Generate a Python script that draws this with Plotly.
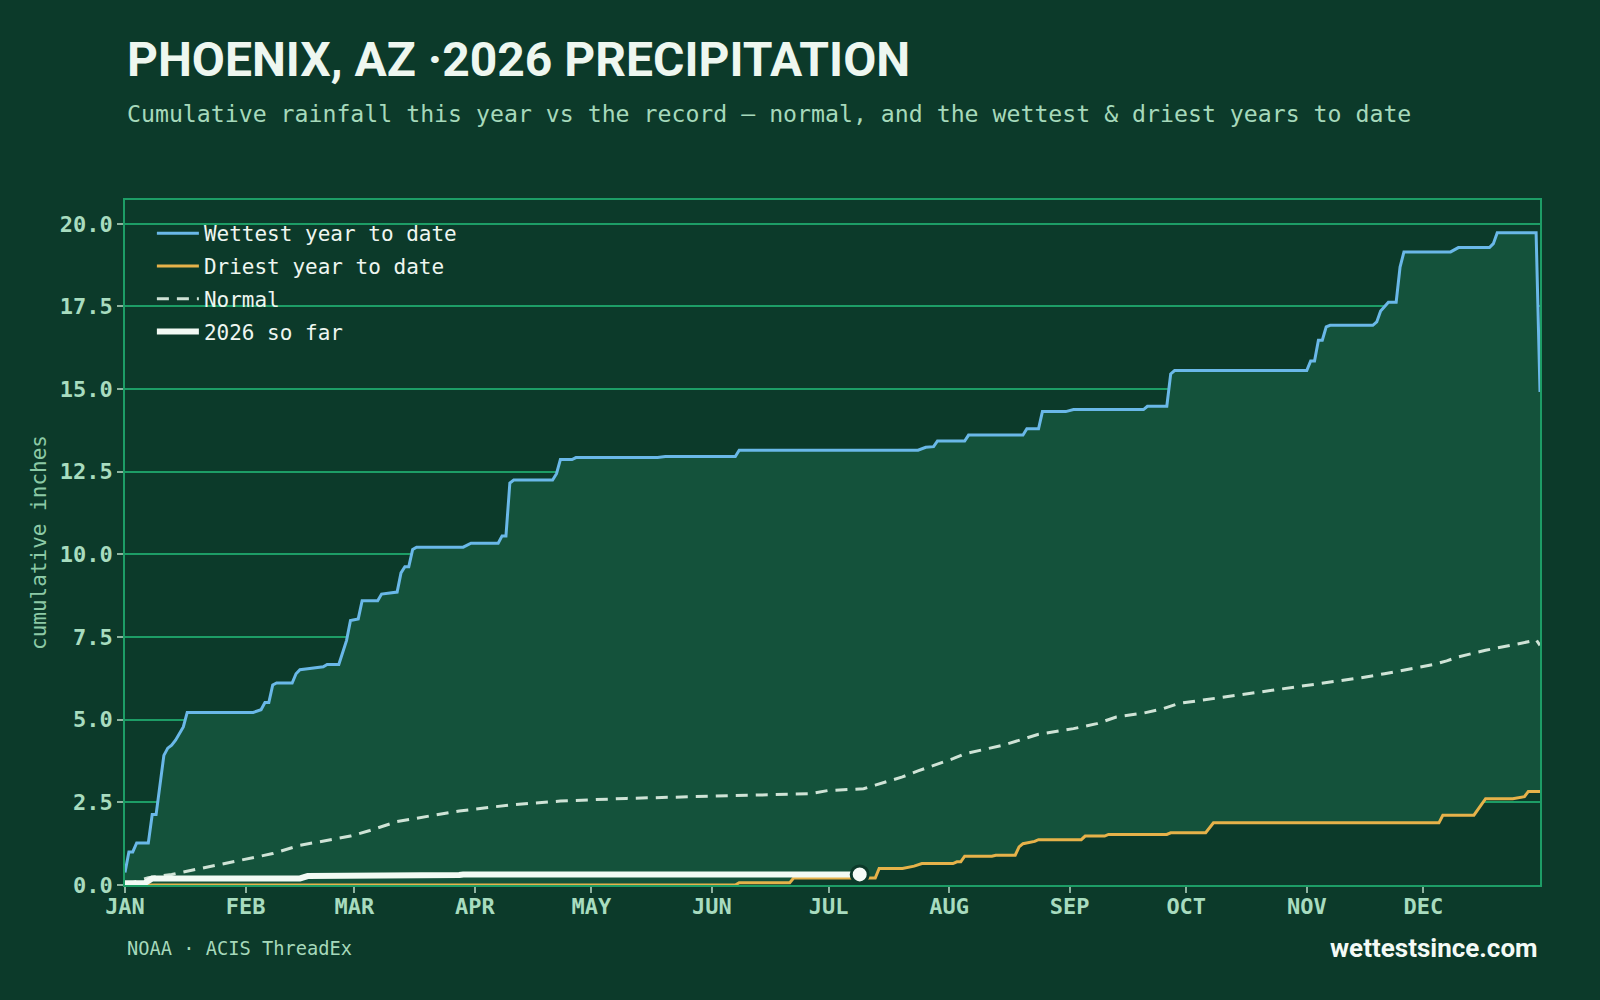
import plotly.graph_objects as go

# ---------------- data (day index 0 = Jan 1, 364 = Dec 31) ----------------
month_ticks = [0, 31, 59, 90, 120, 151, 181, 212, 243, 273, 304, 334]
month_labels = ["JAN", "FEB", "MAR", "APR", "MAY", "JUN",
                "JUL", "AUG", "SEP", "OCT", "NOV", "DEC"]
y_ticks = [0, 2.5, 5, 7.5, 10, 12.5, 15, 17.5, 20]

wettest_days = [0, 1, 2, 3, 6, 7, 8, 10, 11, 12, 13, 15, 16, 33, 35, 36, 37, 38, 39, 43,
                44, 45, 47, 51, 52, 55, 57, 58, 60, 61, 65, 66, 70, 71, 72, 73, 74, 75, 87,
                89, 96, 97, 98, 99, 100, 110, 111, 112, 115, 116, 137, 139, 157, 158, 204,
                206, 208, 209, 216, 217, 231, 232, 235, 236, 242, 244, 262, 263, 268, 269,
                270, 304, 305, 306, 307, 308, 309, 310, 321, 322, 323, 325, 327, 328, 329,
                341, 343, 351, 352, 353, 363, 364]
wettest_vals = [0.38, 1.0, 1.0, 1.27, 1.27, 2.13, 2.13, 3.92, 4.14, 4.23, 4.38, 4.78, 5.22,
                5.22, 5.3, 5.52, 5.52, 6.05, 6.11, 6.11, 6.39, 6.51, 6.54, 6.6, 6.67, 6.67,
                7.4, 8.0, 8.05, 8.6, 8.6, 8.8, 8.86, 9.44, 9.63, 9.63, 10.15, 10.22, 10.22,
                10.34, 10.34, 10.56, 10.56, 12.16, 12.25, 12.25, 12.44, 12.87, 12.87, 12.93,
                12.93, 12.96, 12.96, 13.15, 13.15, 13.24, 13.26, 13.43, 13.43, 13.61, 13.61,
                13.8, 13.8, 14.32, 14.32, 14.38, 14.38, 14.48, 14.48, 15.46, 15.56, 15.56,
                15.85, 15.85, 16.48, 16.48, 16.88, 16.93, 16.93, 17.03, 17.36, 17.63, 17.63,
                18.69, 19.15, 19.15, 19.28, 19.28, 19.40, 19.73, 19.73, 14.91]

driest_days = [0, 157, 158, 171, 172, 193, 194, 200, 203, 205, 213, 214, 215, 216, 223, 224,
               229, 230, 231, 232, 234, 235, 246, 247, 252, 253, 268, 269, 278, 280, 338,
               339, 347, 350, 357, 360, 361, 364]
driest_vals = [0, 0, 0.07, 0.07, 0.21, 0.21, 0.50, 0.50, 0.57, 0.65, 0.65, 0.70, 0.70, 0.87,
               0.87, 0.90, 0.90, 1.15, 1.25, 1.27, 1.32, 1.37, 1.37, 1.48, 1.48, 1.53, 1.53,
               1.58, 1.58, 1.88, 1.88, 2.11, 2.11, 2.61, 2.61, 2.67, 2.83, 2.83]

normal_days = [0, 6, 12, 20, 26, 32, 38, 45, 51, 58, 63, 70, 75, 86, 99, 112, 129, 153, 176,
               181, 190, 193, 200, 204, 213, 216, 226, 235, 244, 250, 255, 262, 267, 271,
               280, 287, 296, 302, 311, 318, 324, 331, 337, 340, 343, 350, 357, 362, 363, 364]
normal_vals = [0.0, 0.22, 0.32, 0.52, 0.65, 0.81, 0.95, 1.2, 1.33, 1.48, 1.65, 1.92, 2.02,
               2.24, 2.42, 2.54, 2.62, 2.69, 2.76, 2.86, 2.91, 3.02, 3.27, 3.45, 3.82, 3.97,
               4.23, 4.56, 4.73, 4.88, 5.08, 5.2, 5.33, 5.49, 5.64, 5.74, 5.89, 6.01, 6.14,
               6.27, 6.39, 6.55, 6.68, 6.78, 6.9, 7.1, 7.25, 7.38, 7.42, 7.25]

current_days = [0, 5, 7, 45, 47, 66, 67, 86, 87, 189]
current_vals = [0.05, 0.05, 0.2, 0.2, 0.27, 0.27, 0.30, 0.30, 0.32, 0.32]

# ---------------- style ----------------
BG = "#0c3a2a"
FILL = "#14523b"
GRID = "#1d9d66"
MONO = "DejaVu Sans Mono"

fig = go.Figure()

# record band (driest -> wettest), drawn without legend entries
fig.add_trace(go.Scatter(x=driest_days, y=driest_vals, mode="lines",
                         line=dict(width=0, color=FILL), showlegend=False,
                         hoverinfo="skip"))
fig.add_trace(go.Scatter(x=wettest_days, y=wettest_vals, mode="lines",
                         fill="tonexty", fillcolor=FILL,
                         line=dict(width=0, color=FILL), showlegend=False,
                         hoverinfo="skip"))

fig.add_trace(go.Scatter(x=wettest_days, y=wettest_vals, mode="lines",
                         name="Wettest year to date", legendgroup="a",
                         line=dict(color="#6ab8e8", width=3)))
fig.add_trace(go.Scatter(x=driest_days, y=driest_vals, mode="lines",
                         name="Driest year to date", legendgroup="b",
                         line=dict(color="#e6b24a", width=3)))
fig.add_trace(go.Scatter(x=normal_days, y=normal_vals, mode="lines", name="Normal",
                         legendgroup="c",
                         line=dict(color="#cfe3d6", width=3, dash="12px,8px")))
fig.add_trace(go.Scatter(x=current_days, y=current_vals, mode="lines", name="2026 so far",
                         legendgroup="d",
                         line=dict(color="#f2faf4", width=6)))
fig.add_trace(go.Scatter(x=current_days[-1:], y=current_vals[-1:], mode="markers",
                         marker=dict(size=17, color="#f7fcf8",
                                     line=dict(color=BG, width=3)),
                         showlegend=False, hoverinfo="skip"))

fig.update_layout(
    width=1600, height=1000,
    paper_bgcolor=BG, plot_bgcolor=BG,
    margin=dict(l=125, r=60, t=200, b=115),
    showlegend=True,
    legend=dict(x=0.019, y=0.981, xanchor="left", yanchor="top", traceorder="grouped",
                bgcolor="rgba(0,0,0,0)", font=dict(family=MONO, size=21, color="#eef6f0"),
                itemwidth=42, tracegroupgap=2.5),
    xaxis=dict(range=[0, 364], tickvals=month_ticks, ticktext=month_labels,
               showgrid=False, zeroline=False, showline=True, mirror=True,
               linecolor=GRID, linewidth=1.5, ticks="outside", ticklen=6,
               tickcolor="#8fb3a0", tickwidth=1.5, ticklabelstandoff=-5,
               tickfont=dict(family=MONO, size=22, color="#a8dcbf", weight="bold")),
    yaxis=dict(range=[0, 20.72], tickvals=y_ticks, tickformat=".1f",
               showgrid=True, gridcolor=GRID, gridwidth=1.5, zeroline=False,
               showline=True, mirror=True, linecolor=GRID, linewidth=1.5,
               ticks="outside", ticklen=6, tickcolor="#8fb3a0", tickwidth=1.5,
               tickfont=dict(family=MONO, size=22, color="#a8dcbf", weight="bold"),
               title=dict(text="cumulative inches", standoff=8,
                          font=dict(family=MONO, size=21, color="#8ccaa6"))),
    annotations=[
        dict(text="PHOENIX, AZ ·2026 PRECIPITATION", xref="paper", yref="paper",
             x=0, y=1.2045, xanchor="left", yanchor="middle", showarrow=False,
             font=dict(family="Roboto", size=48, color="#eef7f0", weight="bold")),
        dict(text="Cumulative rainfall this year vs the record — normal, and the wettest & driest years to date",
             xref="paper", yref="paper", x=0, y=1.127, xanchor="left", yanchor="middle",
             showarrow=False, font=dict(family=MONO, size=23.2, color="#a6d9bb")),
        dict(text="NOAA · ACIS ThreadEx", xref="paper", yref="paper", x=0, y=-0.0925,
             xanchor="left", yanchor="middle", showarrow=False,
             font=dict(family=MONO, size=18.7, color="#a6d9bb")),
        dict(text="wettestsince.com", xref="paper", yref="paper", x=1, y=-0.0925,
             xanchor="right", yanchor="middle", showarrow=False,
             font=dict(family="Roboto", size=26, color="#f4faf6", weight="bold")),
    ],
)

fig.write_html("out.html")
